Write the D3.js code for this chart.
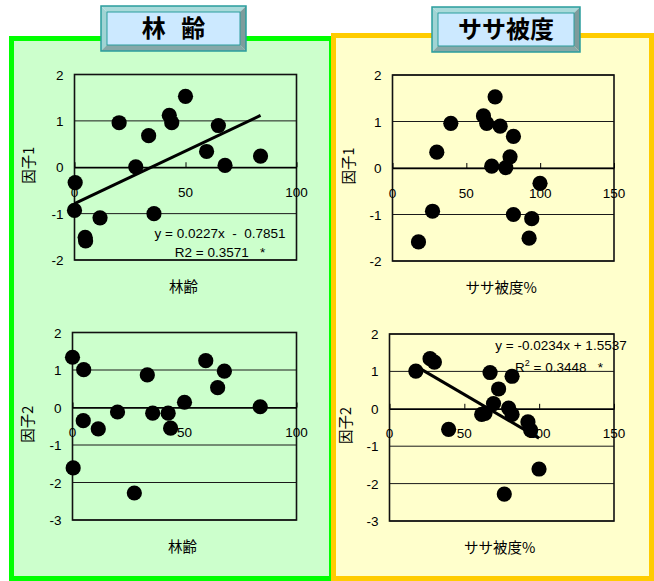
<!DOCTYPE html>
<html>
<head>
<meta charset="utf-8">
<script src="https://cdn.jsdelivr.net/npm/d3@7"></script>
<style>
  html, body { margin: 0; padding: 0; background: #fff; }
  svg { display: block; }
  .num { font-family: Arial, "Liberation Sans", sans-serif; font-size: 13.5px; fill: #000; }
  .jp { font-family: "Noto Sans CJK JP", sans-serif; font-size: 14.5px; fill: #000; }
</style>
</head>
<body>
<svg id="chart" width="654" height="581"></svg>
<script>
// Survey plots: stand age (林齢), dwarf-bamboo cover (ササ被度 %), and two factor scores
const standAge  = [50, 42.7, 20.1, 43.8, 64.8, 33.4, 59.5, 83.8, 67.8, 27.6, 0.3, 0, 35.8, 11.5, 4.8, 5.0];
const sasaCover = [69.5, 61.6, 63.8, 39.5, 72.9, 81.9, 30, 79.6, 67.2, 76.7, 99.9, 27.1, 81.9, 94.3, 92.5, 17.6];
const factor1   = [1.53, 1.12, 0.96, 0.96, 0.9, 0.68, 0.34, 0.24, 0.04, 0.01, -0.33, -0.93, -1.0, -1.09, -1.51, -1.59];
const factor2   = [0.14, -0.15, -0.12, -0.55, 0.53, 0.87, 1.25, 0.02, 0.97, -2.28, -1.61, 1.34, -0.15, -0.57, -0.35, 1.01];

const ageTicks  = [0, 50, 100];
const sasaTicks = [0, 50, 100, 150];
const f1Ticks   = [-2, -1, 0, 1, 2];
const f2Ticks   = [-3, -2, -1, 0, 1, 2];

// Linear fits (slope, intercept, R²)
const fitAgeF1  = [0.0227, -0.7851, 0.3571];
const fitSasaF2 = [-0.0234, 1.5537, 0.3448];

const svg = d3.select("#chart");

// ---- background panels ----
svg.append("rect").attr("x", 11.5).attr("y", 38.5).attr("width", 320).attr("height", 540)
  .attr("fill", "#ccffcc").attr("stroke", "#00ff00").attr("stroke-width", 5);
svg.append("rect").attr("x", 333.5).attr("y", 35.5).attr("width", 318).attr("height", 543)
  .attr("fill", "#ffffcc").attr("stroke", "#ffcc00").attr("stroke-width", 5);

// ---- bevelled title buttons ----
function header(x0, y0, x1, y1, label, spacing) {
  const b = 6, g = svg.append("g");
  const poly = (pts, fill) => g.append("polygon").attr("points", pts.map(p => p.join(",")).join(" ")).attr("fill", fill);
  poly([[x0, y0], [x1, y0], [x1 - b, y0 + b], [x0 + b, y0 + b]], "#a9dada");
  poly([[x0, y0], [x0 + b, y0 + b], [x0 + b, y1 - b], [x0, y1]], "#a0d4d4");
  poly([[x1, y0], [x1, y1], [x1 - b, y1 - b], [x1 - b, y0 + b]], "#7e9c9c");
  poly([[x0, y1], [x1, y1], [x1 - b, y1 - b], [x0 + b, y1 - b]], "#86a8a8");
  g.append("rect").attr("x", x0 + b).attr("y", y0 + b).attr("width", x1 - x0 - 2 * b).attr("height", y1 - y0 - 2 * b)
    .attr("fill", "#cce9ff").attr("stroke", "#2a9d9d").attr("stroke-width", 1);
  g.append("rect").attr("x", x0).attr("y", y0).attr("width", x1 - x0).attr("height", y1 - y0)
    .attr("fill", "none").attr("stroke", "#2a9d9d").attr("stroke-width", 1.5);
  g.append("text").attr("x", (x0 + x1) / 2 + spacing / 2).attr("y", (y0 + y1) / 2 + 8.5)
    .attr("text-anchor", "middle")
    .style("font-family", "'Noto Sans CJK JP', sans-serif").style("font-weight", "bold")
    .style("font-size", "24px").style("letter-spacing", spacing + "px").style("white-space", "pre")
    .attr("fill", "#000").text(label);
}
header(101, 6, 246, 51, "林 齢", 5);
header(432, 7, 580, 52, "ササ被度", 0);

// ---- scatter panel ----
function scatter(o) {
  const g = svg.append("g");
  const x = d3.scaleLinear().domain(d3.extent(o.xTicks)).range([o.left, o.right]);
  const y = d3.scaleLinear().domain(d3.extent(o.yTicks)).range([o.bottom, o.top]);

  // horizontal gridlines
  g.selectAll(".grid").data(o.yTicks).join("line")
    .attr("x1", o.left).attr("x2", o.right).attr("y1", d => y(d)).attr("y2", d => y(d))
    .attr("stroke", "#1a1a1a").attr("stroke-width", 1);
  // plot frame
  g.append("rect").attr("x", o.left).attr("y", o.top).attr("width", o.right - o.left).attr("height", o.bottom - o.top)
    .attr("fill", "none").attr("stroke", "#111").attr("stroke-width", 1.6);

  // x axis crossing at zero, ticks pointing up, labels placed below
  const xAxis = d3.axisTop(x).tickValues(o.xTicks).tickSize(5).tickSizeOuter(0).tickFormat("");
  const ax = g.append("g").attr("transform", `translate(0,${y(0)})`).call(xAxis);
  ax.select(".domain").attr("stroke", "#000").attr("stroke-width", 1.3);
  ax.selectAll(".tick line").attr("stroke", "#000");
  g.selectAll(".xl").data(o.xTicks).join("text").attr("class", "num")
    .attr("x", d => x(d)).attr("y", y(0) + 29.5).attr("text-anchor", "middle").text(d => d);

  // y tick labels
  g.selectAll(".yl").data(o.yTicks).join("text").attr("class", "num")
    .attr("x", o.left - 11).attr("y", d => y(d) + 5).attr("text-anchor", "end").text(d => d);

  // axis titles
  g.append("text").attr("class", "jp").attr("text-anchor", "middle")
    .attr("x", (o.left + o.right) / 2 - 2).attr("y", o.bottom + 32).text(o.xTitle);
  g.append("text").attr("class", "jp").attr("text-anchor", "middle")
    .attr("transform", `translate(${o.yTitleX},${(o.top + o.bottom) / 2 - 2}) rotate(-90)`).text(o.yTitle);

  // points
  g.selectAll(".pt").data(o.xs.map((v, i) => [v, o.ys[i]])).join("circle")
    .attr("cx", d => x(d[0])).attr("cy", d => y(d[1])).attr("r", 7.6).attr("fill", "#000");

  // trend line over the data range
  if (o.fit) {
    const [m, c] = o.fit, ext = d3.extent(o.xs);
    g.append("line").attr("x1", x(ext[0])).attr("y1", y(m * ext[0] + c))
      .attr("x2", x(ext[1])).attr("y2", y(m * ext[1] + c))
      .attr("stroke", "#000").attr("stroke-width", 3);
  }
  return { g, x, y };
}

const tl = scatter({ left: 74.5, right: 296.5, top: 74.5, bottom: 260,
  xTicks: ageTicks, yTicks: f1Ticks, xs: standAge, ys: factor1,
  xTitle: "林齢", yTitle: "因子1", yTitleX: 34, fit: fitAgeF1 });
const tr = scatter({ left: 392.5, right: 614, top: 75, bottom: 261,
  xTicks: sasaTicks, yTicks: f1Ticks, xs: sasaCover, ys: factor1,
  xTitle: "ササ被度%", yTitle: "因子1", yTitleX: 354 });
const bl = scatter({ left: 72.5, right: 296.5, top: 332.5, bottom: 520,
  xTicks: ageTicks, yTicks: f2Ticks, xs: standAge, ys: factor2,
  xTitle: "林齢", yTitle: "因子2", yTitleX: 33 });
const br = scatter({ left: 389.5, right: 614, top: 334, bottom: 521,
  xTicks: sasaTicks, yTicks: f2Ticks, xs: sasaCover, ys: factor2,
  xTitle: "ササ被度%", yTitle: "因子2", yTitleX: 351, fit: fitSasaF2 });

// regression equations
const fmt4 = d3.format(".4f");
tl.g.append("text").attr("class", "num").attr("x", 220).attr("y", 238).attr("text-anchor", "middle")
  .style("white-space", "pre").text(`y = ${fitAgeF1[0]}x  -  ${fmt4(-fitAgeF1[1])}`);
tl.g.append("text").attr("class", "num").attr("x", 220).attr("y", 256.5).attr("text-anchor", "middle")
  .style("white-space", "pre").text(`R2 = ${fitAgeF1[2]}   *`);

br.g.append("text").attr("class", "num").attr("x", 561).attr("y", 350).attr("text-anchor", "middle")
  .style("white-space", "pre").text(`y = ${fitSasaF2[0]}x + ${fitSasaF2[1]}`);
const r2 = br.g.append("text").attr("class", "num").attr("x", 559).attr("y", 371.5).attr("text-anchor", "middle")
  .style("white-space", "pre");
r2.append("tspan").text("R");
r2.append("tspan").attr("dy", -6).style("font-size", "9px").text("2");
r2.append("tspan").attr("dy", 6).text(` = ${fitSasaF2[2]}   *`);
</script>
</body>
</html>
